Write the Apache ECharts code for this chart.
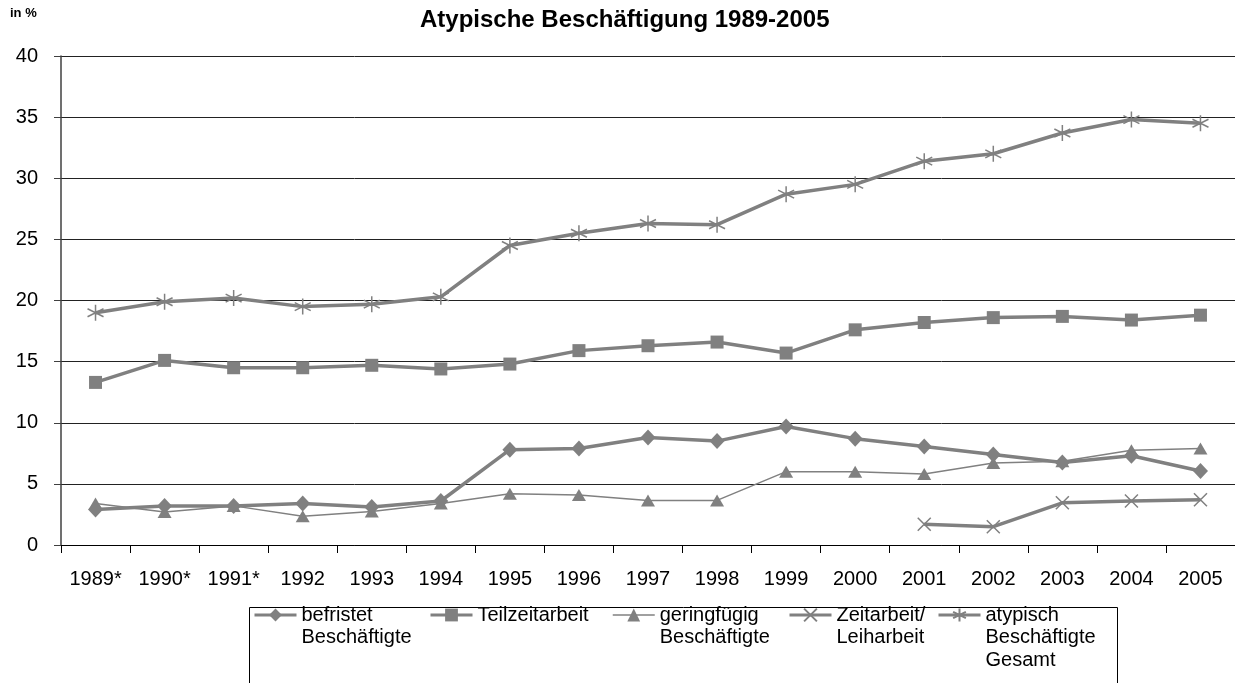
<!DOCTYPE html>
<html lang="de">
<head>
    <meta charset="UTF-8">
    <title>Atypische Beschäftigung 1989-2005</title>
    <script src="https://cdn.jsdelivr.net/npm/echarts@6.0.0/dist/echarts.min.js"></script>
    <style>
        body { margin: 0; background: #fff; }
        #chart { width: 1235px; height: 683px; }
    </style>
</head>
<body>
    <div id="chart"></div>
    <script>
        // Daten
        const years = ['1989*', '1990*', '1991*', '1992', '1993', '1994', '1995', '1996', '1997',
                       '1998', '1999', '2000', '2001', '2002', '2003', '2004', '2005'];
        const befristet = [2.9, 3.2, 3.2, 3.4, 3.1, 3.6, 7.8, 7.9, 8.8, 8.5, 9.7, 8.7, 8.05, 7.4, 6.75, 7.3, 6.05];
        const teilzeit = [13.3, 15.1, 14.5, 14.5, 14.7, 14.4, 14.8, 15.9, 16.3, 16.6, 15.7, 17.6, 18.2, 18.6, 18.7, 18.4, 18.8];
        const geringfuegig = [3.4, 2.7, 3.2, 2.35, 2.75, 3.4, 4.2, 4.1, 3.65, 3.65, 6.0, 6.0, 5.8, 6.7, 6.85, 7.75, 7.9];
        const zeitarbeit = [null, null, null, null, null, null, null, null, null, null, null, null, 1.7, 1.5, 3.45, 3.6, 3.7];
        const gesamt = [19.0, 19.9, 20.2, 19.5, 19.7, 20.3, 24.5, 25.5, 26.3, 26.2, 28.7, 29.5, 31.4, 32.0, 33.7, 34.8, 34.5];

        const names = ['befristet\nBeschäftigte', 'Teilzeitarbeit', 'geringfügig\nBeschäftigte',
                       'Zeitarbeit/\nLeiharbeit', 'atypisch\nBeschäftigte\nGesamt'];
        const lineWidths = [3.5, 3.5, 1.5, 3.5, 3.5];

        const gray = '#808080';
        const font = 'Arial, "Liberation Sans", sans-serif';
        const crossPath = 'path://M0,0L10,10M10,0L0,10';
        const starPath = 'path://M5,0L5,10M0.7,2.5L9.3,7.5M0.7,7.5L9.3,2.5';

        const chart = echarts.init(document.getElementById('chart'));

        // Legende: Symbol auf Höhe der ersten Textzeile
        const lineH = 22.5;
        const iconH = 16;
        const legendLeft = [253, 429, 612, 788, 937];
        const legends = names.map((name, i) => {
            const n = name.split('\n').length;
            const topRel = Math.min(0, iconH / 2 - (2 * n - 1) * lineH / 2);
            return {
                data: [name],
                left: legendLeft[i],
                top: 615 - iconH / 2 + topRel,
                padding: 0,
                itemWidth: 42,
                itemHeight: iconH,
                lineStyle: { width: lineWidths[i] > 2 ? 3 : 1.5 },
                formatter: nm => '\n'.repeat(n - 1) + nm,
                textStyle: { fontFamily: font, fontSize: 20, lineHeight: lineH, color: '#000' }
            };
        });

        function lineSeries(name, data, symbol, size, width, stroke) {
            return {
                name: name,
                type: 'line',
                data: data,
                symbol: symbol,
                symbolSize: size,
                showAllSymbol: true,
                connectNulls: false,
                lineStyle: { color: gray, width: width },
                itemStyle: { color: gray, borderColor: gray, borderWidth: stroke },
                emphasis: { disabled: true }
            };
        }

        chart.setOption({
            animation: false,
            title: [
                {
                    text: 'Atypische Beschäftigung 1989-2005',
                    left: 420,
                    top: 8,
                    padding: 0,
                    textStyle: { fontFamily: font, fontSize: 24, fontWeight: 'bold', color: '#000' }
                },
                {
                    text: 'in %',
                    left: 10,
                    top: 7,
                    padding: 0,
                    textStyle: { fontFamily: font, fontSize: 13, fontWeight: 'bold', color: '#000' }
                }
            ],
            legend: legends,
            grid: { left: 61, right: 0, top: 56, bottom: 138, containLabel: false },
            xAxis: {
                type: 'category',
                data: years,
                boundaryGap: true,
                axisLine: { lineStyle: { color: '#000', width: 1 } },
                axisTick: { show: true, length: 8, lineStyle: { color: '#000' } },
                axisLabel: { fontFamily: font, fontSize: 20, color: '#000', margin: 24, interval: 0 }
            },
            yAxis: {
                type: 'value',
                min: 0,
                max: 40,
                interval: 5,
                axisLine: { show: true, lineStyle: { color: '#404040', width: 1.5 } },
                axisTick: { show: true, length: 7, lineStyle: { color: '#404040' } },
                axisLabel: { fontFamily: font, fontSize: 20, color: '#000', margin: 23 },
                splitLine: { lineStyle: { color: '#222', width: 1 } }
            },
            graphic: [{
                type: 'rect',
                left: 247,
                top: 605,
                shape: { width: 868, height: 100 },
                style: { fill: 'none', stroke: '#000', lineWidth: 1 },
                silent: true
            }],
            series: [
                lineSeries(names[0], befristet, 'diamond', [15, 16], 3.5, 0),
                lineSeries(names[1], teilzeit, 'rect', 13, 3.5, 0),
                lineSeries(names[2], geringfuegig, 'triangle', [14, 12], 1.5, 0),
                lineSeries(names[3], zeitarbeit, crossPath, 13, 3.5, 1.5),
                lineSeries(names[4], gesamt, starPath, 16, 3.5, 1.5)
            ]
        });
    </script>
</body>
</html>
